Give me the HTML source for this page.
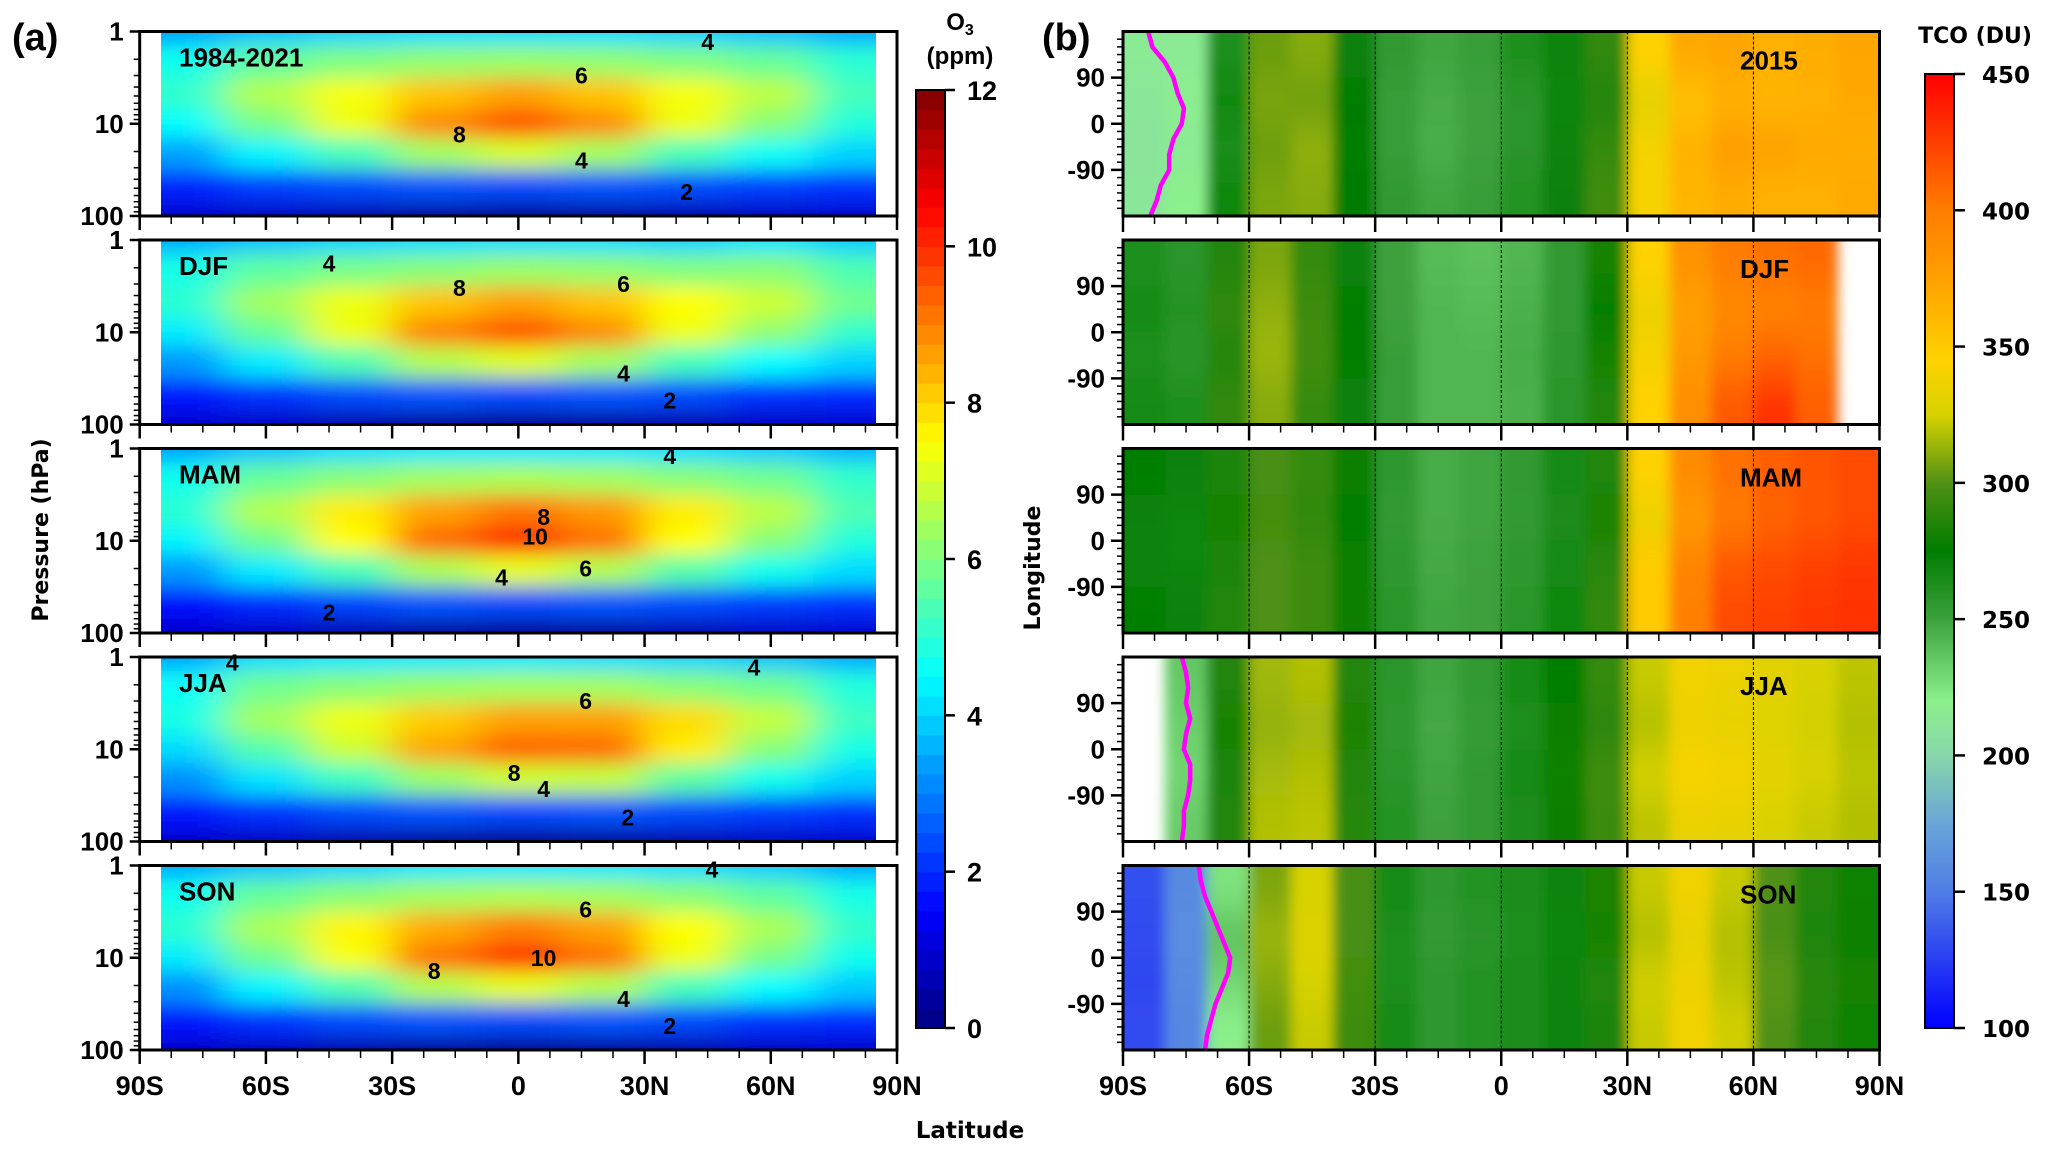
<!DOCTYPE html>
<html><head><meta charset="utf-8">
<style>
html,body{margin:0;padding:0;background:#fff;}
svg{display:block;}
text{font-family:"Liberation Sans Narrow","Liberation Sans",sans-serif;font-weight:bold;fill:#000;}
.wide{font-family:"DejaVu Sans","Liberation Sans",sans-serif;}
</style></head>
<body>
<svg id="fig" width="2067" height="1151" viewBox="0 0 2067 1151" xmlns="http://www.w3.org/2000/svg">
<defs>
<filter id="blurA" x="-0.3" y="-0.3" width="1.6" height="1.6"><feGaussianBlur stdDeviation="20 10"/></filter>
<filter id="blurB" x="-0.3" y="-0.3" width="1.6" height="1.6"><feGaussianBlur stdDeviation="6 20"/></filter>
<linearGradient id="tcoGrad" x1="0" y1="1" x2="0" y2="0"></linearGradient>
</defs>
</svg>
<script>
// ---------- Panel (a) data: zonal mean O3 (ppm), rows = pressure levels, cols = latitudes ----------
const o3Lats = [-80,-60,-40,-20,0,20,40,60,80];
const o3Levels = [1,2,5,10,20,50,100];
const o3Ann = [
 [3.4,3.8,4.0,4.1,4.1,4.1,4.0,3.8,3.5],
 [4.7,5.6,6.0,6.2,6.3,6.2,6.0,5.7,5.0],
 [5.1,6.6,7.4,8.2,8.6,8.2,7.4,6.7,5.3],
 [4.5,5.9,7.3,8.9,9.6,8.9,7.3,6.1,4.9],
 [3.4,4.4,5.3,6.4,7.0,6.4,5.3,4.6,4.0],
 [1.9,2.2,2.4,2.5,2.4,2.5,2.4,2.2,2.1],
 [0.9,0.8,0.5,0.3,0.2,0.3,0.5,0.8,0.9]];
const o3Djf = [
 [3.5,3.8,4.0,4.1,4.1,4.1,4.0,4.2,3.9],
 [4.8,5.6,5.9,6.1,6.3,6.2,6.0,6.1,5.4],
 [5.0,6.4,7.3,8.2,8.6,8.2,7.5,6.9,5.8],
 [4.3,5.7,7.3,9.0,9.6,8.9,7.3,6.2,5.1],
 [3.3,4.3,5.4,6.6,7.1,6.4,5.3,4.5,4.0],
 [1.8,2.1,2.4,2.5,2.4,2.5,2.4,2.1,2.0],
 [0.9,0.8,0.5,0.3,0.2,0.3,0.5,0.8,0.9]];
const o3Mam = [
 [3.4,3.8,4.1,4.2,4.2,4.2,4.1,3.9,3.6],
 [4.7,5.7,6.1,6.4,6.5,6.4,6.1,5.8,5.1],
 [5.0,6.6,7.7,8.6,9.1,8.7,7.7,6.7,5.4],
 [4.4,5.8,7.5,9.3,10.1,9.2,7.5,6.1,4.9],
 [3.3,4.3,5.3,6.5,7.2,6.6,5.5,4.7,4.1],
 [1.7,2.0,2.3,2.5,2.4,2.5,2.4,2.2,2.1],
 [0.9,0.8,0.5,0.3,0.2,0.3,0.5,0.8,0.9]];
const o3Jja = [
 [3.4,4.1,4.2,4.2,4.2,4.1,4.0,3.8,3.5],
 [4.6,5.8,6.1,6.3,6.4,6.4,6.1,5.8,4.9],
 [4.8,6.4,7.3,8.1,8.6,8.6,7.9,6.8,5.2],
 [4.1,5.5,6.9,8.6,9.4,9.3,7.7,6.1,4.8],
 [3.2,4.2,5.2,6.3,6.9,6.8,5.6,4.7,4.0],
 [1.8,2.1,2.4,2.5,2.4,2.5,2.4,2.2,2.1],
 [0.9,0.8,0.5,0.3,0.2,0.3,0.5,0.8,0.9]];
const o3Son = [
 [3.5,3.8,4.0,4.2,4.2,4.2,4.1,3.9,3.5],
 [4.7,5.7,6.1,6.4,6.5,6.4,6.1,5.6,4.8],
 [5.0,6.5,7.6,8.5,9.0,8.6,7.5,6.5,5.1],
 [4.3,5.8,7.4,9.2,10.0,9.2,7.3,5.9,4.7],
 [3.2,4.4,5.4,6.6,7.2,6.6,5.3,4.5,3.9],
 [1.8,2.1,2.4,2.5,2.4,2.5,2.4,2.1,2.0],
 [0.9,0.8,0.5,0.3,0.2,0.3,0.5,0.8,0.9]];
const o3Panels = [o3Ann,o3Djf,o3Mam,o3Jja,o3Son];
const o3PanelTitles = ["1984-2021","DJF","MAM","JJA","SON"];
const o3CbarTicks = [0,2,4,6,8,10,12];

// ---------- Panel (b) data: total column ozone (DU), rows = longitude bands, cols = latitudes ----------
const tcoLats = [-85,-75,-65,-55,-45,-35,-25,-15,-5,5,15,25,35,45,55,65,75,85];
const tcoLons = [135,45,-45,-135];
const tco2015 = [
 [215,215,262,305,310,272,255,248,252,262,270,290,345,370,372,365,368,372],
 [212,218,268,308,305,275,252,246,250,258,268,285,330,355,365,362,365,370],
 [210,215,262,305,312,276,252,245,250,258,270,292,340,365,378,375,370,368],
 [212,220,268,308,310,275,255,248,252,260,272,295,340,362,368,365,365,370]];
const tcoDjf = [
 [262,258,285,308,292,272,250,240,238,242,255,282,345,385,400,405,408,null],
 [265,260,290,312,294,274,250,242,240,244,255,276,335,375,390,395,400,null],
 [262,258,286,314,296,274,252,242,242,246,256,282,340,380,400,410,405,null],
 [266,262,290,310,292,272,252,242,242,244,258,286,345,388,415,430,412,null]];
const tcoMam = [
 [274,272,284,298,292,278,256,246,248,255,266,286,345,390,405,412,416,420],
 [272,268,282,296,290,276,254,246,248,254,264,282,335,380,400,410,415,420],
 [270,268,284,300,294,278,256,247,250,256,266,288,350,395,415,420,425,428],
 [274,272,286,300,294,278,258,248,250,258,268,290,350,398,420,425,428,430]];
const tcoJja = [
 [null,235,285,315,318,285,258,248,255,265,276,292,322,338,335,330,325,320],
 [null,232,282,312,315,283,256,247,253,262,278,288,318,335,332,328,324,318],
 [null,230,284,316,318,285,258,248,255,266,280,295,325,342,340,332,326,320],
 [null,234,286,318,320,287,260,250,255,264,278,293,320,334,332,326,322,318]];
const tcoSon = [
 [132,158,225,308,325,298,265,256,260,264,270,283,322,338,322,300,286,280],
 [130,160,238,314,328,298,263,254,258,262,268,282,318,332,318,298,284,278],
 [128,158,230,310,325,296,263,256,260,264,270,286,324,336,320,302,288,282],
 [130,156,220,305,322,294,265,256,260,264,270,284,322,338,324,300,286,280]];
const tcoPanels = [tco2015,tcoDjf,tcoMam,tcoJja,tcoSon];
const tcoPanelTitles = ["2015","DJF","MAM","JJA","SON"];
const tcoCbarTicks = [100,150,200,250,300,350,400,450];
const edgeLons = [180,150,120,90,60,30,0,-30,-60,-90,-120,-150,-180];
const edge2015 = [-84,-83,-80,-78,-77,-75.5,-76,-78,-79,-79,-81,-82,-83.5];
const edgeJja = [-76,-75,-74.5,-75,-74,-75,-75.5,-74,-74,-74.5,-75.5,-75.5,-76];
const edgeSon = [-72,-71.5,-70.5,-69,-67.5,-66,-64.5,-65,-66.5,-68,-69,-70,-70.5];
const edgePanels = {0:edge2015,3:edgeJja,4:edgeSon};
const latTicks = [-90,-60,-30,0,30,60,90];
const latTickLabels = ["90S","60S","30S","0","30N","60N","90N"];
// contour labels: [panel, lat, pressure, text]
const contourLabels = [[0,45,1.3,"4"],[0,15,3,"6"],[0,-14,13,"8"],[0,15,25,"4"],[0,40,55,"2"],
 [1,-45,1.8,"4"],[1,-14,3.3,"8"],[1,25,3,"6"],[1,25,28,"4"],[1,36,55,"2"],
 [2,36,1.2,"4"],[2,6,5.5,"8"],[2,4,9,"10"],[2,16,20,"6"],[2,-4,25,"4"],[2,-45,60,"2"],
 [3,-68,1.15,"4"],[3,16,3,"6"],[3,-1,18,"8"],[3,6,27,"4"],[3,26,55,"2"],[3,56,1.3,"4"],
 [4,46,1.1,"4"],[4,16,3,"6"],[4,6,10,"10"],[4,-20,14,"8"],[4,25,28,"4"],[4,36,55,"2"]];

// ---------- layout ----------
const NS = "http://www.w3.org/2000/svg";
const svg = document.getElementById('fig');
const defs = svg.querySelector('defs');
const TOP0 = 31.5, STEP = 208.5, PH = 184.5;
const AX0 = 139.7, AX1 = 897, ADX0 = 161, ADX1 = 876;
const BX0 = 1123, BX1 = 1879.5;
const CBA = {x:916, w:29, top:90, bot:1028};
const CBB = {x:1925, w:29, top:74, bot:1028};
function el(tag, attrs, parent){
  const e = document.createElementNS(NS, tag);
  for (const k in attrs) e.setAttribute(k, attrs[k]);
  (parent||svg).appendChild(e);
  return e;
}
function txt(s, attrs, parent){ const t = el('text', attrs, parent); t.textContent = s; return t; }
const xA = lat => AX0 + (lat+90)/180*(AX1-AX0);
const xB = lat => BX0 + (lat+90)/180*(BX1-BX0);
const yA = (p,top) => top + Math.log10(p)/2*PH;
const yB = (lon,top) => top + (180-lon)/360*PH;

function jet(v){
  const t = Math.max(0,Math.min(1,v/12));
  const r = Math.max(0,Math.min(1, Math.min(4*t-1.5, -4*t+4.5)));
  const g = Math.max(0,Math.min(1, Math.min(4*t-0.5, -4*t+3.5)));
  const b = Math.max(0,Math.min(1, Math.min(4*t+0.5, -4*t+2.5)));
  return `rgb(${Math.round(r*255)},${Math.round(g*255)},${Math.round(b*255)})`;
}
const tcoStops = [[100,[0,0,255]],[150,[80,125,230]],[175,[105,165,215]],[200,[135,215,170]],[220,[140,240,140]],[250,[60,160,60]],[275,[0,125,0]],[300,[80,145,20]],[325,[215,210,0]],[345,[255,210,0]],[375,[255,160,0]],[400,[255,125,0]],[450,[255,0,0]]];
function tcoColor(v){
  v = Math.max(100,Math.min(450,v));
  for (let i=0;i<tcoStops.length-1;i++){
    const [a,ca]=tcoStops[i],[b,cb]=tcoStops[i+1];
    if (v<=b){ const f=(v-a)/(b-a); return `rgb(${ca.map((c,j)=>Math.round(c+(cb[j]-c)*f)).join(',')})`; }
  }
  return 'rgb(255,0,0)';
}
const grad = document.getElementById('tcoGrad');
tcoStops.forEach(([v,c])=>{ el('stop',{offset:((v-100)/350).toFixed(3),'stop-color':`rgb(${c.join(',')})`},grad); });

// ---------- Panel (a) ----------
const logL = o3Levels.map(p=>Math.log10(p));
o3Panels.forEach((data, pi)=>{
  const top = TOP0 + pi*STEP;
  const g = el('g',{});
  
  
  const cp = el('clipPath',{id:'clipA'+pi},defs);
  el('rect',{x:ADX0,y:top,width:ADX1-ADX0,height:PH},cp);
  const field = el('g',{'clip-path':`url(#clipA${pi})`},g);
  const inner = el('g',{filter:'url(#blurA)'},field);
  data.forEach((row, ri)=>{
    const y0 = ri===0 ? top-80 : top + (logL[ri-1]+logL[ri])/2/2*PH;
    const y1 = ri===data.length-1 ? top+PH+80 : top + (logL[ri]+logL[ri+1])/2/2*PH;
    row.forEach((v, ci)=>{
      const lat = o3Lats[ci];
      const x0 = ci===0 ? xA(-130) : xA(lat-10);
      const x1 = ci===row.length-1 ? xA(130) : xA(lat+10);
      const c = el('rect',{x:x0,y:y0,width:x1-x0+0.5,height:y1-y0+0.5,fill:jet(v)},inner);
      
      
    });
  });
  const fr = el('rect',{x:AX0,y:top,width:AX1-AX0,height:PH,fill:'none',stroke:'#000','stroke-width':3},g);
  
  
  [1,10,100].forEach(p=>{
    el('line',{x1:AX0-10,x2:AX0,y1:yA(p,top),y2:yA(p,top),stroke:'#000','stroke-width':2.5},g);
    const t = txt(String(p),{x:AX0-16,y:yA(p,top)+9,'text-anchor':'end','font-size':26},g);
    
    
  });
  [2,3,4,5,6,7,8,9,20,30,40,50,60,70,80,90].forEach(p=>{
    el('line',{x1:AX0-6,x2:AX0,y1:yA(p,top),y2:yA(p,top),stroke:'#000','stroke-width':1.5},g);
  });
  for (let lat=-90; lat<=90; lat+=7.5){
    const major = lat%30===0;
    el('line',{x1:xA(lat),x2:xA(lat),y1:top+PH,y2:top+PH+(major?14:8),stroke:'#000','stroke-width':major?2.5:1.5},g);
  }
  const st = txt(o3PanelTitles[pi],{x:179,y:top+35,'font-size':26},g);
  
  
});
contourLabels.forEach(([pi,lat,p,s])=>{
  const t = txt(s,{x:xA(lat),y:yA(p,TOP0+pi*STEP)+8,'text-anchor':'middle','font-size':23});
  
  
});
latTicks.forEach((lat,i)=>{
  const t = txt(latTickLabels[i],{x:xA(lat),y:1095,'text-anchor':'middle','font-size':27});
  
  
});
const cbaG = el('g',{});


const nLev = 48;
for (let i=0;i<nLev;i++){
  const v0 = i*12/nLev, h=(CBA.bot-CBA.top)/nLev;
  el('rect',{x:CBA.x,y:CBA.bot-(i+1)*h,width:CBA.w,height:h+0.6,fill:jet(v0+0.125)},cbaG);
}
el('rect',{x:CBA.x,y:CBA.top,width:CBA.w,height:CBA.bot-CBA.top,fill:'none',stroke:'#000','stroke-width':2},cbaG);
o3CbarTicks.forEach(v=>{
  const y = CBA.bot-(v/12)*(CBA.bot-CBA.top);
  el('line',{x1:CBA.x+CBA.w,x2:CBA.x+CBA.w+10,y1:y,y2:y,stroke:'#000','stroke-width':2.5},cbaG);
  const t = txt(String(v),{x:CBA.x+CBA.w+22,y:y+10,'font-size':27},cbaG);
  
  
});
const o3t = el('text',{x:960,y:30,'text-anchor':'middle','font-size':24});
o3t.innerHTML = 'O<tspan font-size="16" dy="5">3</tspan>';


const ppm = txt('(ppm)',{x:960,y:64,'text-anchor':'middle','font-size':24});



// ---------- Panel (b) ----------
const lonEdges = [180,90,0,-90,-180];
tcoPanels.forEach((data, pi)=>{
  const top = TOP0 + pi*STEP;
  const g = el('g',{});
  
  
  const cp = el('clipPath',{id:'clipB'+pi},defs);
  el('rect',{x:BX0,y:top,width:BX1-BX0,height:PH},cp);
  const field = el('g',{'clip-path':`url(#clipB${pi})`},g);
  const inner = el('g',{filter:'url(#blurB)'},field);
  data.forEach((row, ri)=>{
    const y0 = ri===0 ? top-80 : yB(lonEdges[ri],top);
    const y1 = ri===data.length-1 ? top+PH+80 : yB(lonEdges[ri+1],top);
    row.forEach((v, ci)=>{
      if (v===null) return;
      const lat = tcoLats[ci];
      const x0 = (ci===0) ? xB(-110) : xB(lat-5);
      const x1 = (ci===row.length-1) ? xB(110) : xB(lat+5);
      const c = el('rect',{x:x0,y:y0,width:x1-x0+0.5,height:y1-y0+0.5,fill:tcoColor(v)},inner);
      
      
    });
  });
  [-60,-30,0,30,60].forEach(lat=>{
    el('line',{x1:xB(lat),x2:xB(lat),y1:top,y2:top+PH,stroke:'#000','stroke-width':1,'stroke-dasharray':'3,2'},g);
  });
  if (edgePanels[pi]){
    const pts = edgePanels[pi].map((lat,i)=>`${xB(lat).toFixed(1)},${yB(edgeLons[i],top).toFixed(1)}`).join(' ');
    const pl = el('polyline',{points:pts,fill:'none',stroke:'#ff00ff','stroke-width':4.5,'stroke-linejoin':'round'},g);
    
    
  }
  const fr = el('rect',{x:BX0,y:top,width:BX1-BX0,height:PH,fill:'none',stroke:'#000','stroke-width':3},g);
  
  
  [90,0,-90].forEach(lon=>{
    el('line',{x1:BX0-12,x2:BX0,y1:yB(lon,top),y2:yB(lon,top),stroke:'#000','stroke-width':2.5},g);
    const t = txt(String(lon),{x:BX0-18,y:yB(lon,top)+9,'text-anchor':'end','font-size':26},g);
    
    
  });
  for (let lon=-165; lon<=165; lon+=15){
    if (lon%90===0) continue;
    el('line',{x1:BX0-6,x2:BX0,y1:yB(lon,top),y2:yB(lon,top),stroke:'#000','stroke-width':1.5},g);
  }
  for (let lat=-90; lat<=90; lat+=7.5){
    const major = lat%30===0;
    el('line',{x1:xB(lat),x2:xB(lat),y1:top+PH,y2:top+PH+(major?16:8),stroke:'#000','stroke-width':major?2.5:1.5},g);
  }
  const st = txt(tcoPanelTitles[pi],{x:1740,y:top+38,'font-size':26},g);
  
  
});
latTicks.forEach((lat,i)=>{
  const t = txt(latTickLabels[i],{x:xB(lat),y:1095,'text-anchor':'middle','font-size':27});
  
  
});
const cbbG = el('g',{});


el('rect',{x:CBB.x,y:CBB.top,width:CBB.w,height:CBB.bot-CBB.top,fill:'url(#tcoGrad)',stroke:'#000','stroke-width':2},cbbG);
tcoCbarTicks.forEach(v=>{
  const y = CBB.bot-((v-100)/350)*(CBB.bot-CBB.top);
  el('line',{x1:CBB.x+CBB.w,x2:CBB.x+CBB.w+11,y1:y,y2:y,stroke:'#000','stroke-width':2.5},cbbG);
  const t = txt(String(v),{x:1982,y:y+9,'font-size':23,'class':'wide'},cbbG);
  
  
});
const tcoT = txt('TCO (DU)',{x:1975,y:43,'text-anchor':'middle','font-size':22,'class':'wide'});



// ---------- titles ----------
const la = txt('(a)',{x:12,y:50,'font-size':38,'font-weight':'normal'});


const lb = txt('(b)',{x:1042,y:50,'font-size':38,'font-weight':'normal'});


const yt = txt('Pressure (hPa)',{x:0,y:0,'text-anchor':'middle','font-size':22,'class':'wide',transform:'translate(48,530) rotate(-90)'});


const yb = txt('Longitude',{x:0,y:0,'text-anchor':'middle','font-size':22,'class':'wide',transform:'translate(1040,568) rotate(-90)'});


const xt = txt('Latitude',{x:970,y:1138,'text-anchor':'middle','font-size':23,'class':'wide'});


</script>
</body></html>
